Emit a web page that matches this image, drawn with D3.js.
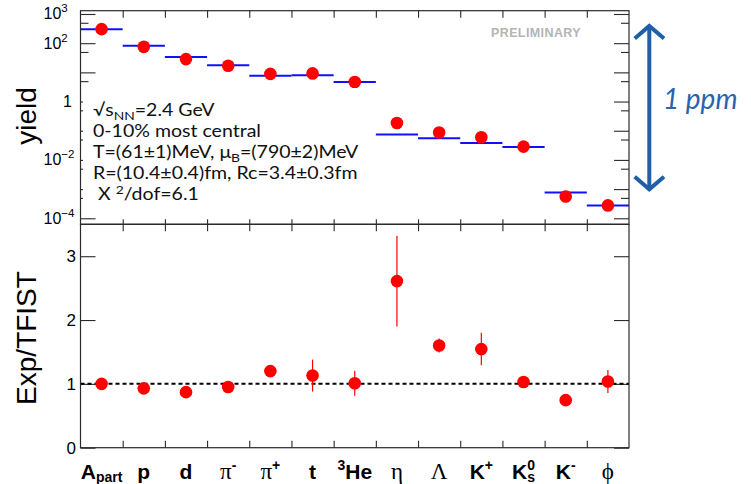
<!DOCTYPE html>
<html>
<head>
<meta charset="utf-8">
<script src="https://cdnjs.cloudflare.com/ajax/libs/d3/7.8.5/d3.min.js"></script>
<style>
  html, body { margin: 0; padding: 0; background: #fff; }
  svg { display: block; }
</style>
</head>
<body>
<svg id="chart" width="751" height="484"></svg>
<script>
// ---- data -------------------------------------------------------------
// particle species along the x axis
const species = ["Apart", "p", "d", "pi-", "pi+", "t", "3He", "eta", "Lambda", "K+", "K0s", "K-", "phi"];

// axis label markup per species: [text, style] with style b=bold sans, g=greek serif,
// and an optional position: "sub", "sup" or "stack" (subscript under the previous superscript)
const speciesLabels = [
  [["A", "b"], ["part", "b", "sub"]],
  [["p", "b"]],
  [["d", "b"]],
  [["\u03c0", "g"], ["-", "b", "sup"]],
  [["\u03c0", "g"], ["+", "b", "sup"]],
  [["t", "b"]],
  [["3", "b", "sup"], ["He", "b"]],
  [["\u03b7", "g"]],
  [["\u039b", "g"]],
  [["K", "b"], ["+", "b", "sup"]],
  [["K", "b"], ["0", "b", "sup"], ["s", "b", "stack"]],
  [["K", "b"], ["-", "b", "sup"]],
  [["\u03d5", "g"]]
];

// measured yields (red points)
const measuredYield = [303, 75, 28.5, 16.8, 8.9, 9.2, 4.7, 0.185, 0.087, 0.060, 0.0286, 5.6e-4, 2.76e-4];
// thermal-model yields (blue bars)
const modelYield = [303, 81.5, 33.4, 17.7, 7.6, 8.0, 4.7, 0.074, 0.055, 0.038, 0.0277, 7.7e-4, 2.76e-4];

// data / model ratio and its uncertainty
const ratio = [1.00, 0.93, 0.87, 0.95, 1.20, 1.13, 1.01, 2.61, 1.60, 1.545, 1.03, 0.745, 1.037];
const ratioErr = [0.02, 0.03, 0.03, 0.03, 0.05, 0.25, 0.195, 0.71, 0.11, 0.255, 0.05, 0.03, 0.18];

// tick values and labels
const yieldMajorTicks = [1e3, 1e2, 1e1, 1, 1e-1, 1e-2, 1e-3, 1e-4];
const yieldMinorTicks = [5e2, 5e1, 5, 0.5, 5e-2, 5e-3, 5e-4];
const yieldLabelTicks = [1e3, 1e2, 1, 1e-2, 1e-4];
const yieldLabelExp = ["3", "2", null, "\u22122", "\u22124"];
const ratioTicks = [0, 1, 2, 3];

// fit-result annotation lines: [text, style] with style n=normal, sub, sup
const fitInfo = [
  [["\u221as", "n"], ["NN", "sub"], ["=2.4 GeV", "n"]],
  [["0-10% most central", "n"]],
  [["T=(61\u00b11)MeV, \u03bc", "n"], ["B", "sub"], ["=(790\u00b12)MeV", "n"]],
  [["R=(10.4\u00b10.4)fm, Rc=3.4\u00b10.3fm", "n"]],
  [["\u00a0X ", "n"], ["2", "sup"], ["/dof=6.1", "n"]]
];

// ---- layout ------------------------------------------------------------
const frame = { left: 80.5, right: 629, top: 10.7, mid: 224.3, bottom: 447.7 };
const SANS = "'Liberation Sans', Arial, Helvetica, sans-serif";
const SERIF = "'Liberation Serif', 'Times New Roman', serif";
const RED = "#ff0000", BLUE = "#1010ff", FRAME = "#2a2a2a";

const svg = d3.select("#chart");

// band scale for the species, linear index scale for bin edges
const x = d3.scaleBand().domain(species).range([frame.left, frame.right]).padding(0);
const xEdge = d3.scaleLinear().domain([0, species.length]).range([frame.left, frame.right]);

const yTop = d3.scaleLog().domain([Math.pow(10, -4.206), Math.pow(10, 3.113)]).range([frame.mid, frame.top]);
const yBot = d3.scaleLinear().domain([0, 3.5]).range([frame.bottom, frame.mid]);

// helper: tick-only axis (no domain path)
function ticksOnly(sel, axis) {
  sel.call(axis);
  sel.select(".domain").remove();
  sel.selectAll(".tick line").attr("stroke", FRAME).attr("stroke-width", 1.1);
  sel.selectAll(".tick text").remove();
}

const edges = d3.range(1, species.length);

// ---- upper panel: yields ---------------------------------------------
const upper = svg.append("g");

upper.append("g").attr("transform", `translate(${frame.left},0)`)
  .call(g => ticksOnly(g, d3.axisRight(yTop).tickValues(yieldMajorTicks).tickSize(15)));
upper.append("g").attr("transform", `translate(${frame.left},0)`)
  .call(g => ticksOnly(g, d3.axisRight(yTop).tickValues(yieldMinorTicks).tickSize(8)));
upper.append("g").attr("transform", `translate(${frame.right},0)`)
  .call(g => ticksOnly(g, d3.axisLeft(yTop).tickValues(yieldMajorTicks).tickSize(15)));
upper.append("g").attr("transform", `translate(${frame.right},0)`)
  .call(g => ticksOnly(g, d3.axisLeft(yTop).tickValues(yieldMinorTicks).tickSize(8)));
upper.append("g").attr("transform", `translate(0,${frame.top})`)
  .call(g => ticksOnly(g, d3.axisBottom(xEdge).tickValues(edges).tickSize(7)));
upper.append("g").attr("transform", `translate(0,${frame.mid})`)
  .call(g => ticksOnly(g, d3.axisTop(xEdge).tickValues(edges).tickSize(5)));

// log-axis labels: "10" with exponent, or plain "1"
yieldLabelTicks.forEach((v, i) => {
  const y = yTop(v) + 5.5;
  const exp = yieldLabelExp[i];
  if (exp === null) {
    upper.append("text").attr("x", 72).attr("y", y).attr("text-anchor", "end")
      .attr("font-family", SANS).attr("font-size", 16).text("1");
  } else {
    const t = upper.append("text").attr("x", 43.5).attr("y", y)
      .attr("font-family", SANS).attr("font-size", 16);
    t.append("tspan").text("10");
    t.append("tspan").attr("dy", -7).attr("font-size", 11.5).text(exp);
  }
});

upper.append("text")
  .attr("transform", `translate(36,116) rotate(-90)`)
  .attr("text-anchor", "middle")
  .attr("font-family", SANS).attr("font-size", 28)
  .text("yield");

// model bars
upper.selectAll("line.model").data(species).join("line")
  .attr("class", "model")
  .attr("x1", d => x(d)).attr("x2", d => x(d) + x.bandwidth())
  .attr("y1", (d, i) => yTop(modelYield[i])).attr("y2", (d, i) => yTop(modelYield[i]))
  .attr("stroke", BLUE).attr("stroke-width", 2);

// measured points
upper.selectAll("circle.meas").data(species).join("circle")
  .attr("class", "meas")
  .attr("cx", d => x(d) + x.bandwidth() / 2)
  .attr("cy", (d, i) => yTop(measuredYield[i]))
  .attr("r", 6.3).attr("fill", RED);

// white pave behind the fit annotation (hides the axis ticks beneath it)
upper.append("rect")
  .attr("x", frame.left + 2.5).attr("y", 88)
  .attr("width", 285).attr("height", 127)
  .attr("fill", "#fff");

// fit annotation
const info = upper.append("g")
  .attr("transform", "translate(93,0) scale(1.15,1)")
  .attr("font-family", "Lato, 'Open Sans', sans-serif").attr("font-size", 17).attr("fill", "#111");
fitInfo.forEach((line, li) => {
  const t = info.append("text").attr("x", 0).attr("y", 116.5 + li * 20.8);
  let shift = 0;
  line.forEach(([s, style]) => {
    const sp = t.append("tspan").text(s);
    if (style === "sub" || style === "sup") {
      const d = style === "sub" ? 3.5 : -6;
      sp.attr("dy", d - shift).attr("font-size", 12);
      shift = d;
    } else if (shift !== 0) {
      sp.attr("dy", -shift);
      shift = 0;
    }
  });
});

upper.append("text")
  .attr("x", 536).attr("y", 37.2).attr("text-anchor", "middle")
  .attr("font-family", SANS).attr("font-weight", "bold").attr("font-size", 12.5)
  .attr("letter-spacing", 0.4)
  .attr("fill", "#b4b4b4").text("PRELIMINARY");

upper.append("rect")
  .attr("x", frame.left).attr("y", frame.top)
  .attr("width", frame.right - frame.left).attr("height", frame.mid - frame.top)
  .attr("fill", "none").attr("stroke", FRAME).attr("stroke-width", 1.2);

// ---- lower panel: ratio ----------------------------------------------
const lower = svg.append("g");

lower.append("g").attr("transform", `translate(${frame.left},0)`)
  .call(g => ticksOnly(g, d3.axisRight(yBot).tickValues(ratioTicks).tickSize(15)));
lower.append("g").attr("transform", `translate(${frame.right},0)`)
  .call(g => ticksOnly(g, d3.axisLeft(yBot).tickValues(ratioTicks).tickSize(15)));
lower.append("g").attr("transform", `translate(0,${frame.mid})`)
  .call(g => ticksOnly(g, d3.axisBottom(xEdge).tickValues(edges).tickSize(7)));
lower.append("g").attr("transform", `translate(0,${frame.bottom})`)
  .call(g => ticksOnly(g, d3.axisTop(xEdge).tickValues(edges).tickSize(7)));

ratioTicks.forEach(v => {
  lower.append("text").attr("x", 76).attr("y", yBot(v) + 6).attr("text-anchor", "end")
    .attr("font-family", SANS).attr("font-size", 17).text(v);
});

lower.append("text")
  .attr("transform", `translate(36,338) rotate(-90)`)
  .attr("text-anchor", "middle")
  .attr("font-family", SANS).attr("font-size", 28)
  .text("Exp/TFIST");

// unity reference line
lower.append("line")
  .attr("x1", frame.left).attr("x2", frame.right)
  .attr("y1", yBot(1)).attr("y2", yBot(1))
  .attr("stroke", "#000").attr("stroke-width", 2).attr("stroke-dasharray", "4,3");

// error bars
lower.selectAll("line.err").data(species).join("line")
  .attr("class", "err")
  .attr("x1", d => x(d) + x.bandwidth() / 2).attr("x2", d => x(d) + x.bandwidth() / 2)
  .attr("y1", (d, i) => yBot(ratio[i] - ratioErr[i]))
  .attr("y2", (d, i) => yBot(ratio[i] + ratioErr[i]))
  .attr("stroke", RED).attr("stroke-width", 1.2);

lower.selectAll("circle.ratio").data(species).join("circle")
  .attr("class", "ratio")
  .attr("cx", d => x(d) + x.bandwidth() / 2)
  .attr("cy", (d, i) => yBot(ratio[i]))
  .attr("r", 6.3).attr("fill", RED);

lower.append("rect")
  .attr("x", frame.left).attr("y", frame.mid)
  .attr("width", frame.right - frame.left).attr("height", frame.bottom - frame.mid)
  .attr("fill", "none").attr("stroke", FRAME).attr("stroke-width", 1.2);

// species labels under the lower panel
const BASE = 21;
species.forEach((sp, i) => {
  const g = lower.append("g");
  let cursor = 0, lastX = 0;
  speciesLabels[i].forEach(([s, style, pos]) => {
    const small = pos === "sub" || pos === "sup" || pos === "stack";
    const size = style === "g" ? 23 : (small ? 14 : BASE);
    const dy = pos === "sup" ? -9 : (pos === "sub" || pos === "stack") ? 3.5 : 0;
    const px = pos === "stack" ? lastX : cursor;
    const t = g.append("text").attr("x", px).attr("y", dy)
      .attr("font-family", style === "g" ? SERIF : SANS)
      .attr("font-weight", style === "g" ? "normal" : "bold")
      .attr("font-size", size).text(s);
    const w = t.node().getComputedTextLength();
    lastX = px;
    cursor = Math.max(cursor, px + w);
  });
  const cx = x(sp) + x.bandwidth() / 2;
  g.attr("transform", `translate(${cx - cursor / 2},478.5)`);
});

// ---- side annotation: one-ppm span --------------------------------------
const ARROW = "#1f5ea8";
const ann = svg.append("g").attr("stroke", ARROW).attr("stroke-width", 4).attr("fill", "none");
ann.append("line").attr("x1", 649.3).attr("x2", 649.3).attr("y1", 27).attr("y2", 188.5);
ann.append("path").attr("d", "M634.7,38.5 L649.3,26 L664,38.5").attr("stroke-linejoin", "miter");
ann.append("path").attr("d", "M634.7,176.8 L649.3,189.3 L664,176.8").attr("stroke-linejoin", "miter");
svg.append("text").attr("x", 663).attr("y", 109)
  .attr("font-family", "Lato, 'Open Sans', sans-serif").attr("font-style", "italic")
  .attr("font-size", 28).attr("fill", "#2a64aa").text("1 ppm");
</script>
</body>
</html>
